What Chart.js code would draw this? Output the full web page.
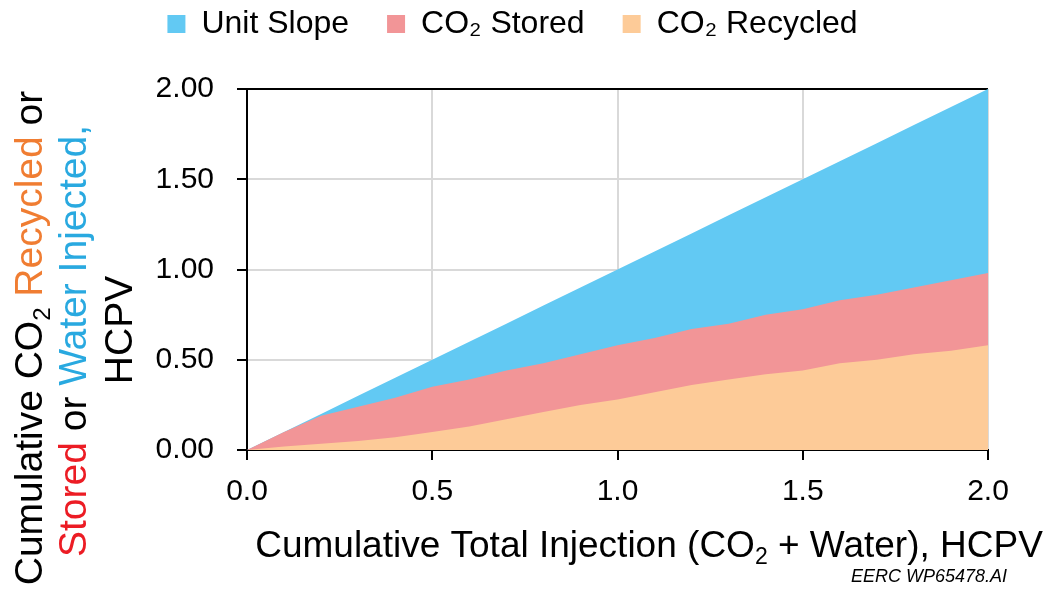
<!DOCTYPE html>
<html>
<head>
<meta charset="utf-8">
<script src="https://cdn.jsdelivr.net/npm/chart.js@4.4.1/dist/chart.umd.min.js"></script>
<style>
  html, body { margin: 0; padding: 0; background: #fff; }
  #wrap { width: 1048px; height: 592px; }
</style>
</head>
<body>
<div id="wrap"><canvas id="chart1"></canvas></div>
<script>
const injection = [0.0, 0.1, 0.2, 0.3, 0.4, 0.5, 0.6, 0.7, 0.8, 0.9, 1.0, 1.1, 1.2, 1.3, 1.4, 1.5, 1.6, 1.7, 1.8, 1.9, 2.0];
const unitSlope = [0.0, 0.1, 0.2, 0.3, 0.4, 0.5, 0.6, 0.7, 0.8, 0.9, 1.0, 1.1, 1.2, 1.3, 1.4, 1.5, 1.6, 1.7, 1.8, 1.9, 2.0];
const co2Stored = [0.0, 0.1, 0.19, 0.24, 0.29, 0.35, 0.39, 0.44, 0.48, 0.53, 0.58, 0.62, 0.67, 0.70, 0.75, 0.78, 0.83, 0.86, 0.90, 0.94, 0.98];
const co2Recycled = [0.0, 0.02, 0.035, 0.05, 0.07, 0.10, 0.13, 0.17, 0.21, 0.25, 0.28, 0.32, 0.36, 0.39, 0.42, 0.44, 0.48, 0.50, 0.53, 0.55, 0.58];
const seriesNames = ["Unit Slope", "CO\u2082 Stored", "CO\u2082 Recycled"];
const xTicks = [0, 0.5, 1.0, 1.5, 2.0];
const yTicks = [0, 0.5, 1.0, 1.5, 2.0];

const FONT = "'Liberation Sans', Arial, sans-serif";
const BLACK = "#000";

function pts(arr) {
  return injection.map((x, i) => ({ x: x, y: arr[i] }));
}

// draws a line of text made of coloured pieces, some as subscripts
function drawRich(ctx, segs, cx, cy, size) {
  const main = size + "px " + FONT;
  const sub = Math.round(size * 0.62) + "px " + FONT;
  let w = 0;
  segs.forEach(s => { ctx.font = s.sub ? sub : main; w += ctx.measureText(s.t).width; });
  let x = cx - w / 2;
  ctx.textAlign = "left";
  ctx.textBaseline = "alphabetic";
  segs.forEach(s => {
    ctx.font = s.sub ? sub : main;
    ctx.fillStyle = s.c || BLACK;
    ctx.fillText(s.t, x, cy + (s.sub ? size * 0.2 : 0));
    x += ctx.measureText(s.t).width;
  });
}

const axisTitles = {
  id: "axisTitles",
  beforeInit(chart) {
    // taller legend box so the plot starts lower
    const fit = chart.legend.fit;
    chart.legend.fit = function () {
      fit.bind(chart.legend)();
      this.height = 119;
    };
  },
  afterDraw(chart) {
    const ctx = chart.ctx;
    const yLines = [
      { x: 42, y: 338, segs: [{ t: "Cumulative CO" }, { t: "2", sub: true }, { t: " " }, { t: "Recycled", c: "#F07D32" }, { t: " or" }] },
      { x: 86, y: 341, segs: [{ t: "Stored", c: "#EC1C24" }, { t: " or " }, { t: "Water Injected,", c: "#29A9E0" }] },
      { x: 132, y: 330, segs: [{ t: "HCPV" }] }
    ];
    yLines.forEach(l => {
      ctx.save();
      ctx.translate(l.x, l.y);
      ctx.rotate(-Math.PI / 2);
      drawRich(ctx, l.segs, 0, 0, 39);
      ctx.restore();
    });
    ctx.save();
    drawRich(ctx, [{ t: "Cumulative Total Injection (CO" }, { t: "2", sub: true }, { t: " + Water), HCPV" }], 649, 557, 37);
    ctx.font = "italic 18px " + FONT;
    ctx.fillStyle = BLACK;
    ctx.textAlign = "right";
    ctx.fillText("EERC WP65478.AI", 1007, 582);
    ctx.restore();
  }
};

const ctx = document.getElementById("chart1");
new Chart(ctx, {
  type: "line",
  data: {
    datasets: [
      { label: seriesNames[0], data: pts(unitSlope), backgroundColor: "#62C9F3", order: 3 },
      { label: seriesNames[1], data: pts(co2Stored), backgroundColor: "#F29597", order: 2 },
      { label: seriesNames[2], data: pts(co2Recycled), backgroundColor: "#FDCB98", order: 1 }
    ]
  },
  options: {
    responsive: true,
    maintainAspectRatio: false,
    animation: false,
    devicePixelRatio: 1,
    layout: { padding: { top: -30, left: 37, right: 60, bottom: 0 } },
    elements: {
      line: { fill: "origin", borderWidth: 0, tension: 0 },
      point: { radius: 0, hoverRadius: 0 }
    },
    plugins: {
      tooltip: { enabled: false },
      legend: {
        reverse: true,
        labels: {
          color: BLACK,
          boxWidth: 18,
          boxHeight: 18,
          padding: 38,
          font: { family: FONT, size: 32 }
        }
      }
    },
    scales: {
      x: {
        type: "linear",
        min: 0,
        max: 2,
        afterFit(scale) { scale.height = 142; },
        afterBuildTicks(scale) { scale.ticks = xTicks.map(v => ({ value: v })); },
        ticks: {
          color: BLACK,
          padding: 14,
          maxRotation: 0,
          font: { family: FONT, size: 30 },
          callback: v => v.toFixed(1)
        },
        grid: { color: "#D9D9D9", lineWidth: 2, tickColor: BLACK, tickWidth: 2, tickLength: 10 },
        border: { color: BLACK, width: 2 }
      },
      y: {
        min: 0,
        max: 2,
        afterFit(scale) { scale.width = 210; },
        afterBuildTicks(scale) { scale.ticks = yTicks.map(v => ({ value: v })); },
        ticks: {
          color: BLACK,
          padding: 23,
          font: { family: FONT, size: 30 },
          callback: v => v.toFixed(2)
        },
        grid: {
          color: c => (c.tick && c.tick.value === 2 ? BLACK : "#D9D9D9"),
          lineWidth: 2,
          tickColor: BLACK,
          tickWidth: 2,
          tickLength: 10
        },
        border: { color: BLACK, width: 2 }
      }
    }
  },
  plugins: [axisTitles]
});
</script>
</body>
</html>
